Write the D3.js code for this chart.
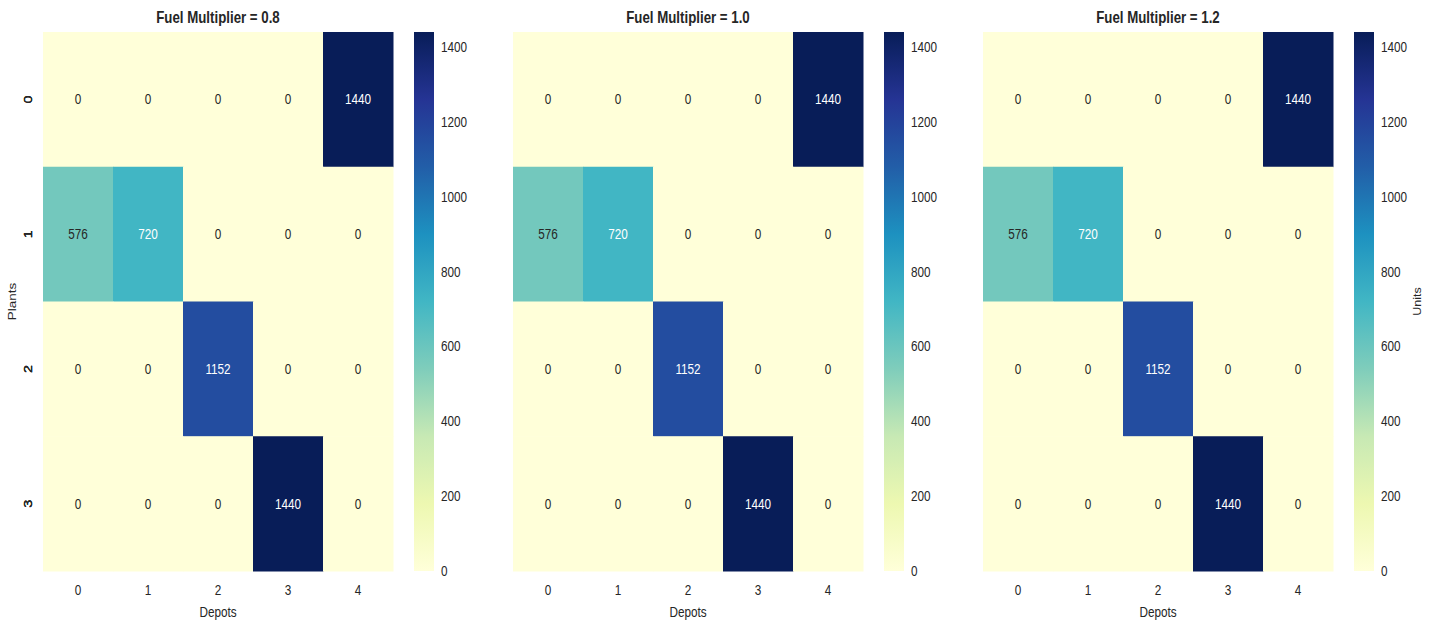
<!DOCTYPE html>
<html>
<head>
<meta charset="utf-8">
<script src="https://cdn.jsdelivr.net/npm/d3@7"></script>
<style>
  html, body { margin: 0; padding: 0; background: #fff; }
  svg { display: block; font-family: "Liberation Sans", Arial, sans-serif; }
</style>
</head>
<body>
<svg id="chart" width="1434" height="622"></svg>
<script>
// ---------------- data ----------------
const plants = ["0", "1", "2", "3"];
const depots = ["0", "1", "2", "3", "4"];
const multipliers = ["0.8", "1.0", "1.2"];
const flows08 = [
  [0, 0, 0, 0, 1440],
  [576, 720, 0, 0, 0],
  [0, 0, 1152, 0, 0],
  [0, 0, 0, 1440, 0]
];
const flows10 = [
  [0, 0, 0, 0, 1440],
  [576, 720, 0, 0, 0],
  [0, 0, 1152, 0, 0],
  [0, 0, 0, 1440, 0]
];
const flows12 = [
  [0, 0, 0, 0, 1440],
  [576, 720, 0, 0, 0],
  [0, 0, 1152, 0, 0],
  [0, 0, 0, 1440, 0]
];
const colorbarTicks = [0, 200, 400, 600, 800, 1000, 1200, 1400];
const ylgnbu = ["#ffffd9", "#edf8b1", "#c7e9b4", "#7fcdbb", "#41b6c4", "#1d91c0", "#225ea8", "#253494", "#081d58"];

const panels = [
  { mult: multipliers[0], data: flows08 },
  { mult: multipliers[1], data: flows10 },
  { mult: multipliers[2], data: flows12 }
];

// ---------------- layout ----------------
const svg = d3.select("#chart");
const textColor = "#262626";
const SX = 0.81; // horizontal squeeze of text
const hmW = 350, hmH = 539, topY = 32;
const panelLefts = [43, 513, 983];
const cbOffset = 371, cbW = 20;

function hText(g, x, y, str, opts) {
  const o = Object.assign({ size: 14, anchor: "middle", weight: "normal", fill: textColor, sx: SX, baseline: "central" }, opts || {});
  g.append("g").attr("transform", `translate(${x},${y})`)
    .append("text")
    .attr("transform", `scale(${o.sx},1)`)
    .attr("text-anchor", o.anchor)
    .attr("dominant-baseline", o.baseline)
    .attr("font-size", o.size)
    .attr("font-weight", o.weight)
    .attr("fill", o.fill)
    .text(str);
}
function vText(g, x, y, str, size) {
  g.append("text")
    .attr("transform", `translate(${x},${y}) rotate(-90) scale(1,${SX})`)
    .attr("text-anchor", "middle")
    .attr("dominant-baseline", "central")
    .attr("font-size", size)
    .attr("fill", textColor)
    .text(str);
}
function lum(c) {
  const rgb = d3.rgb(c);
  const f = v => { v /= 255; return v <= 0.03928 ? v / 12.92 : Math.pow((v + 0.055) / 1.055, 2.4); };
  return 0.2126 * f(rgb.r) + 0.7152 * f(rgb.g) + 0.0722 * f(rgb.b);
}

const defs = svg.append("defs");

panels.forEach((p, pi) => {
  const left = panelLefts[pi];
  const g = svg.append("g");
  const vmax = d3.max(p.data.flat());
  const vmin = d3.min(p.data.flat());
  const color = d3.scaleLinear()
    .domain(ylgnbu.map((_, i) => vmin + (vmax - vmin) * i / (ylgnbu.length - 1)))
    .range(ylgnbu)
    .interpolate(d3.interpolateRgb);

  const x = d3.scaleBand().domain(depots).range([left, left + hmW]);
  const y = d3.scaleBand().domain(plants).range([topY, topY + hmH]);

  const cells = [];
  p.data.forEach((row, ri) => row.forEach((v, ci) => cells.push({ r: plants[ri], c: depots[ci], v })));

  g.selectAll("rect.cell").data(cells).join("rect")
    .attr("class", "cell")
    .attr("x", d => x(d.c))
    .attr("y", d => y(d.r))
    .attr("width", x.bandwidth() + 0.5)
    .attr("height", y.bandwidth() + 0.5)
    .attr("fill", d => color(d.v));

  cells.forEach(d => {
    const c = color(d.v);
    hText(g, x(d.c) + x.bandwidth() / 2, y(d.r) + y.bandwidth() / 2, String(d.v),
      { size: 14.5, fill: lum(c) > 0.408 ? textColor : "#ffffff" });
  });

  // x tick labels
  depots.forEach(dp => hText(g, x(dp) + x.bandwidth() / 2, 590, dp, { size: 14.5 }));
  // y tick labels (rotated)
  plants.forEach(pl => vText(g, 28, y(pl) + y.bandwidth() / 2, pl, 14.5));

  // axis labels
  hText(g, left + hmW / 2, 612, "Depots", { size: 14.5 });
  if (pi === 0) vText(g, 12, topY + hmH / 2, "Plants", 13.5);

  // title
  hText(g, left + hmW / 2, 18, "Fuel Multiplier = " + p.mult, { size: 16, weight: "bold", sx: 0.83 });

  // colorbar
  const cbX = left + cbOffset;
  const cbScale = d3.scaleLinear().domain([vmin, vmax]).range([topY + hmH, topY]);
  const gid = "grad" + pi;
  const grad = defs.append("linearGradient").attr("id", gid)
    .attr("x1", 0).attr("y1", 1).attr("x2", 0).attr("y2", 0);
  ylgnbu.forEach((c, i) => grad.append("stop")
    .attr("offset", (i / (ylgnbu.length - 1)))
    .attr("stop-color", c));
  g.append("rect")
    .attr("x", cbX).attr("y", topY)
    .attr("width", cbW).attr("height", hmH)
    .attr("fill", `url(#${gid})`);
  colorbarTicks.forEach(t => hText(g, cbX + cbW + 7, cbScale(t), String(t), { size: 14.5, anchor: "start" }));
  if (pi === 2) vText(g, 1417, topY + hmH / 2, "Units", 12.5);
});
</script>
</body>
</html>
